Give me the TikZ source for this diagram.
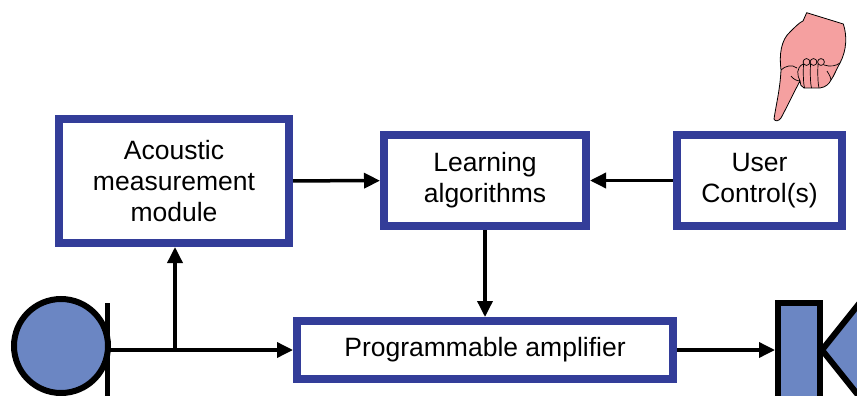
\documentclass[tikz,border=0pt]{standalone}
\usepackage{fontspec}
\setmainfont{Liberation Sans}
\usetikzlibrary{arrows.meta}
\definecolor{boxblue}{RGB}{51,61,153}
\definecolor{partblue}{RGB}{107,134,195}
\definecolor{handpink}{RGB}{245,160,160}

\begin{document}
\begin{tikzpicture}[x=1pt,y=-1pt,
    block/.style={draw=boxblue,line width=8pt,fill=white,align=center,
      inner sep=0pt,font=\fontsize{26.5}{31}\selectfont},
    sig/.style={line width=3.5pt,-{Triangle[length=16pt,width=15pt]}}]
  \useasboundingbox (0,0) rectangle (857,396);
  \clip (0,0) rectangle (857,396);

  % blocks
  \node[block,minimum width=230pt,minimum height=124pt] (acoustic)
    at (174,181) {Acoustic\\measurement\\module};
  \node[block,minimum width=202pt,minimum height=91pt] (learning)
    at (485,180.5) {Learning\\algorithms};
  \node[block,minimum width=165pt,minimum height=91pt] (user)
    at (759.5,180.5) {User\\Control(s)};
  \node[block,minimum width=376pt,minimum height=58pt] (amp)
    at (485,350) {Programmable amplifier};

  % microphone
  \draw[line width=6pt,fill=partblue] (61,346) circle (47);
  \draw[line width=5pt] (107,303) -- (107,400);
  \coordinate (mic) at (107,350);
  \coordinate (tap) at (175,350);

  % loudspeaker
  \draw[line width=6pt,fill=partblue] (822,350) -- (870,290) -- (870,410) -- cycle;
  \draw[line width=6pt,fill=partblue] (778,303) rectangle (820,405);
  \coordinate (spk) at (775,350);

  % connections
  \draw[sig] (acoustic) -- (learning);
  \draw[sig] (user) -- (learning);
  \draw[sig] (learning) -- (amp);
  \draw[line width=3.5pt] (mic) -- (tap);
  \draw[sig] (tap) -- (amp.west |- tap);
  \draw[sig] (tap) -- (tap |- acoustic.south);
  \draw[sig] (amp.east |- spk) -- (spk);

  % pointing hand
  \draw[line width=0.8pt,fill=handpink,line join=round]
    (806.7,12.7) -- (843.3,24)
    .. controls (847,35) and (847,50) .. (840,63)
    .. controls (836,70) and (834,76) .. (831,80)
    .. controls (829,84) and (826,87) .. (820,88)
    -- (804,88)
    .. controls (801,87) and (800,84) .. (800,81)
    .. controls (795,90) and (788,105) .. (781,118)
    .. controls (779,121) and (775,122) .. (774,119)
    .. controls (776,105) and (780,90) .. (781,70)
    .. controls (779,55) and (781,40) .. (790,32)
    .. controls (795,27) and (800,22) .. (803,21) -- cycle;
  \draw[line width=0.7pt]
    (800,81) .. controls (797,75) and (796,68) .. (803,64)
    (791,76) .. controls (793,79) and (797,81) .. (800,81)
    (781,70) .. controls (785,66) and (792,64) .. (797,68)
    (824,65) .. controls (830,67) and (836,66) .. (840,63)
    (827,71) .. controls (830,76) and (831,78) .. (831,80);
  \foreach \kx in {806.5,813.5,821} {
    \draw[line width=0.7pt,fill=handpink] (\kx,62) circle (3.4);
    \draw[line width=0.7pt] (\kx-3,64) .. controls (\kx-3.5,75) and (\kx-3,84) .. (\kx-2,88);
  }
\end{tikzpicture}
\end{document}
